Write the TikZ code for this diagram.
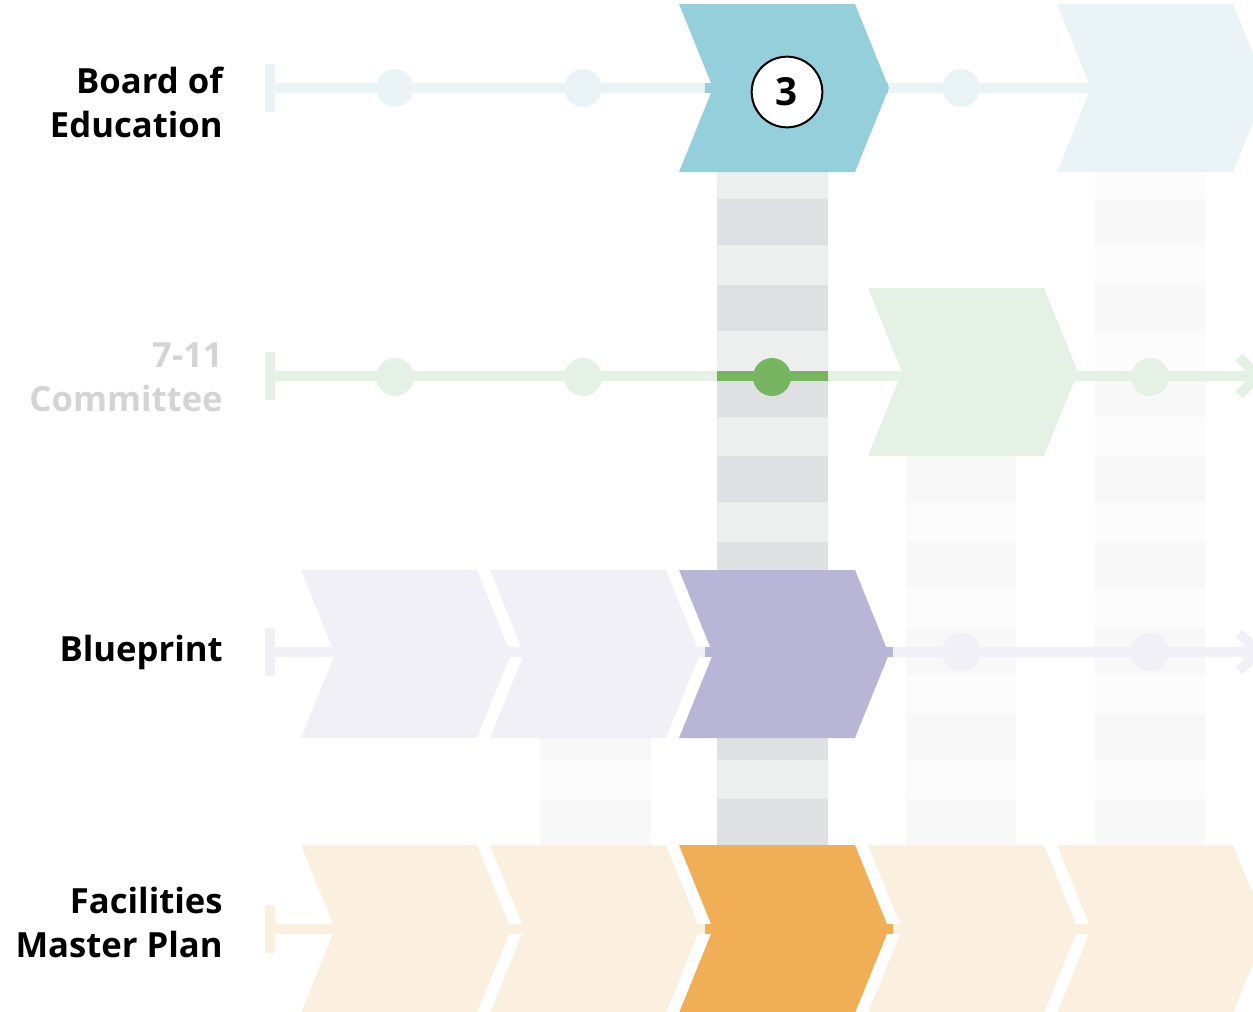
\documentclass[tikz,border=0pt]{standalone}
\usepackage{fontspec}
\setmainfont{Open Sans}
\usepackage{tikz}
\usetikzlibrary{positioning}
\usepackage{xcolor}
\definecolor{tealfull}{HTML}{94CFDB}
\definecolor{tealpale}{HTML}{EAF4F7}
\definecolor{greenfull}{HTML}{78B562}
\definecolor{greenpale}{HTML}{E6F1E5}
\definecolor{violetfull}{HTML}{B9B5D7}
\definecolor{violetpale}{HTML}{F1F0F7}
\definecolor{orangefull}{HTML}{F0AF56}
\definecolor{orangepale}{HTML}{FBEFE0}
\definecolor{bandlight}{HTML}{EDEEEE}
\definecolor{banddark}{HTML}{DFE0E1}
\definecolor{ghostlight}{HTML}{FCFCFC}
\definecolor{ghostdark}{HTML}{F8F8F8}
\definecolor{mutedtext}{HTML}{D4D4D4}

\newcommand{\bandcol}[5]{%
  \begin{scope}
    \clip (#1,#3) rectangle (#2,845);
    \fill[#4] (#1,#3) rectangle (#2,845);
    \foreach \k in {0,...,7}
      \fill[#5] (#1,199+85.75*\k) rectangle (#2,245+85.75*\k);
  \end{scope}}

\tikzset{
  chevron/.pic={\fill (0,-84) -- (176,-84) -- (210,0) -- (176,84) -- (0,84) -- (34,0) -- cycle;},
  track/.style={line width=7.5pt},
  startbar/.style={line width=7.5pt},
  dot/.style={circle, inner sep=0pt, minimum size=28.5pt},
  rowlabel/.style={anchor=east, align=right, inner sep=0pt,
    font=\bfseries\fontsize{26}{33}\selectfont}
}

\begin{document}
\begin{tikzpicture}[x=0.75pt, y=-0.75pt]
	\useasboundingbox (0,0) rectangle (1253,1011);
	\clip (0,0) rectangle (1253,1011);

	\bandcol{717}{828}{172}{bandlight}{banddark}
	\bandcol{1095}{1205}{172}{ghostlight}{ghostdark}
	\bandcol{906}{1016}{456}{ghostlight}{ghostdark}
	\bandcol{540}{651}{738}{ghostlight}{ghostdark}

	\coordinate (sb) at (270,88);  \coordinate (eb) at (1253,88);
	\coordinate (sc) at (270,376); \coordinate (ec) at (1258,376);
	\coordinate (sp) at (270,652); \coordinate (ep) at (1258,652);
	\coordinate (sf) at (270,929); \coordinate (ef) at (1253,929);

	\foreach \s/\e/\c in {sb/eb/tealpale, sc/ec/greenpale, sp/ep/violetpale, sf/ef/orangepale}
	{
		\draw[track, \c] (\s) -- (\e);
		\draw[startbar, \c] (\s) ++(0,-24) -- ++(0,48);
	}
	\draw[track, greenpale, line join=miter] (ec) ++(-19,-19) -- (ec) -- ++(-19,19);
	\draw[track, violetpale, line join=miter] (ep) ++(-19,-19) -- (ep) -- ++(-19,19);

	\coordinate (ab1) at (705,88);  \coordinate (ab2) at (888,88);
	\coordinate (ac1) at (717,376); \coordinate (ac2) at (828,376);
	\coordinate (ap1) at (705,652); \coordinate (ap2) at (893,652);
	\coordinate (af1) at (705,929); \coordinate (af2) at (893,929);
	\draw[track, tealfull] (ab1) -- (ab2);
	\draw[track, greenfull] (ac1) -- (ac2);
	\draw[track, violetfull] (ap1) -- (ap2);
	\draw[track, orangefull] (af1) -- (af2);

	\foreach \x [count=\i] in {395,583,961}
		\node[dot, fill=tealpale] (bd\i) at (\x,88) {};
	\foreach \x/\c [count=\i] in {395/greenpale, 583/greenpale, 772/greenfull, 1150/greenpale}
		\node[dot, fill=\c] (cd\i) at (\x,377) {};
	\foreach \x [count=\i] in {961,1150}
		\node[dot, fill=violetpale] (pd\i) at (\x,652) {};

	\foreach \x/\c in {679/tealfull, 1057/tealpale}
		\pic[fill=\c] at (\x,88) {chevron};
	\pic[fill=greenpale] at (868,372) {chevron};
	\foreach \x/\c in {301/violetpale, 490/violetpale, 679/violetfull}
		\pic[fill=\c] at (\x,654) {chevron};
	\foreach \x/\c in {301/orangepale, 490/orangepale, 679/orangefull, 868/orangepale, 1057/orangepale}
		\pic[fill=\c] at (\x,929) {chevron};

	\node[draw, circle, fill=white, line width=1.5pt, minimum size=53pt, inner sep=0pt,
		font=\bfseries\fontsize{29}{29}\selectfont] (step) at (787,92) {3};

	\node[rowlabel] (board) at (223,102) {Board of\\Education};
	\node[rowlabel, text=mutedtext] (committee) at (223,377) {7-11\\Committee};
	\node[rowlabel] (blueprint) at (223,652) {Blueprint};
	\node[rowlabel] (facilities) at (223,922) {Facilities\\Master Plan};
\end{tikzpicture}
\end{document}
